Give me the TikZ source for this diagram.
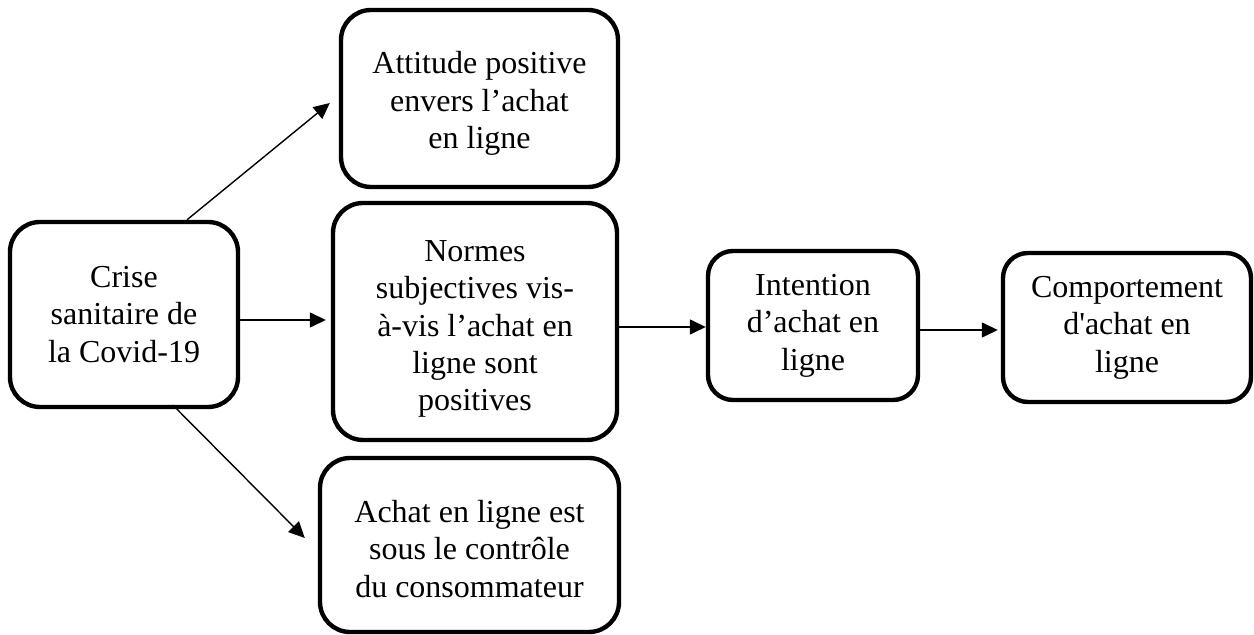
\documentclass[tikz,border=0pt]{standalone}
\usepackage{fontspec}
\setmainfont{Liberation Serif}
\usetikzlibrary{arrows.meta}
\tikzset{
  boite/.style={draw, line width=2.2pt, rounded corners=15pt, align=center,
    inner sep=2pt, font=\fontsize{16}{18.7}\selectfont},
  petite/.style={rounded corners=12.5pt},
  fleche/.style={line width=0.7pt, -{Triangle[length=8pt,width=7.5pt]}}
}
\begin{document}
\begin{tikzpicture}[x=0.5pt, y=-0.5pt]
			%%%%% START %%%%%
			\useasboundingbox (0, 0) rectangle (1254, 635);
			
			\node[boite, minimum width=114pt, minimum height=92.5pt] (crise) at (124, 314.5) {Crise\\sanitaire de\\la Covid-19};
			
			% rules push the text a bit down, as in the model
			\node[boite, minimum width=138.5pt, minimum height=88.5pt] (attitude) at (479.5, 98.5) {\rule{0pt}{16pt}Attitude positive\\envers l’achat\\en ligne};
			\node[boite, minimum width=142pt, minimum height=118.5pt] (normes) at (475, 321.5) {\rule{0pt}{18pt}Normes\\subjectives vis-\\à-vis l’achat en\\ligne sont\\positives};
			\node[boite, minimum width=149.5pt, minimum height=87pt] (controle) at (469.5, 545) {\rule{0pt}{15pt}Achat en ligne est\\sous le contrôle\\du consommateur};
			
			\node[boite, petite, minimum width=105pt, minimum height=74.5pt] (intention) at (813, 325.5) {Intention\\d’achat en\\ligne};
			\node[boite, petite, minimum width=124pt, minimum height=74.5pt] (comportement) at (1127, 327.5) {Comportement\\d\textquotesingle achat en\\ligne};
			
			\draw[fleche] ([shift={(63, 0)}]crise.north) -- ([shift={(-9, 4.5)}]attitude.west);
			\draw[fleche] ([shift={(0, 5.5)}]crise.east) -- ([shift={(-5, -1.5)}]normes.west);
			\draw[fleche] ([shift={(49, -4)}]crise.south) -- ([shift={(-13, -7)}]controle.west);
			
			\draw[fleche] ([shift={(0, 5.5)}]normes.east) -- ([shift={(0, 1.5)}]intention.west);
			\draw[fleche] ([shift={(0, 4.5)}]intention.east) -- ([shift={(-3, 2.5)}]comportement.west);
			%%%%% END %%%%%
\end{tikzpicture}
\end{document}
